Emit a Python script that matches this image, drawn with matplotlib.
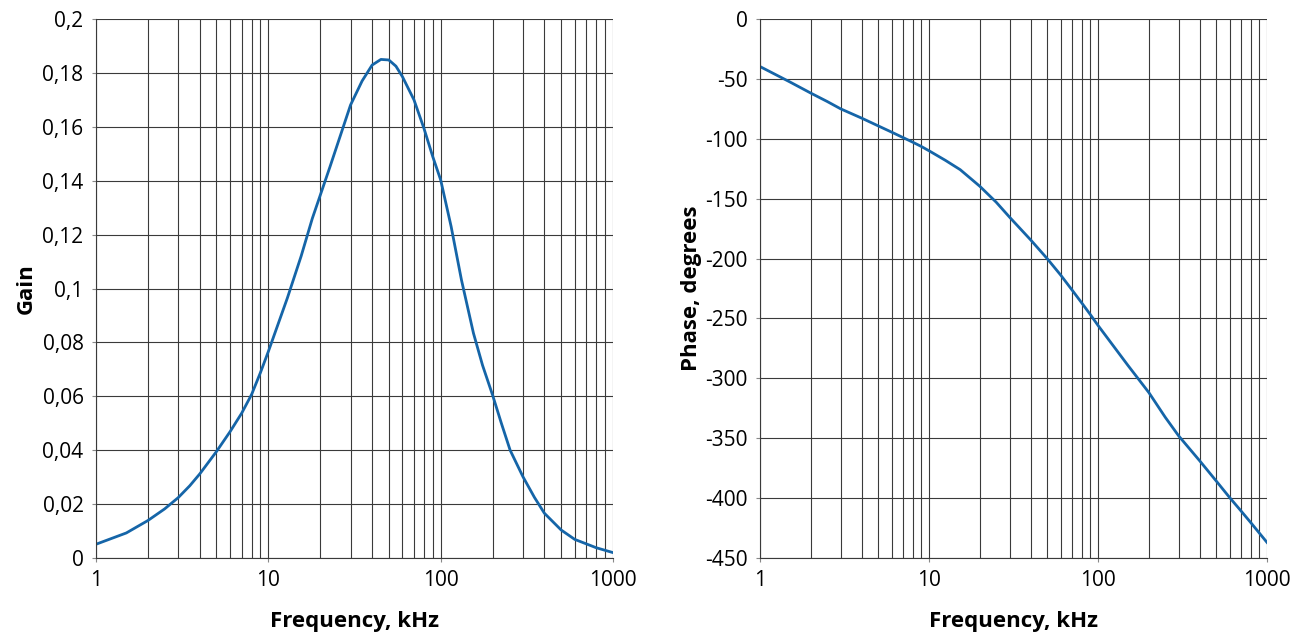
import numpy as np
import matplotlib.pyplot as plt
from matplotlib.ticker import FuncFormatter, FixedLocator, LogLocator

# frequency points (kHz) and gain
freq_gain = [1, 1.5, 2, 2.5, 3, 3.5, 4, 5, 6, 7, 8, 9, 10, 12.9, 15.5, 18, 22.8, 30, 35,
             40, 45, 50, 55, 60, 70, 80, 90, 100, 115, 132, 155, 175, 200, 225, 253,
             300, 350, 400, 500, 600, 800, 1000]
gain = [0.0051, 0.0093, 0.0139, 0.0182, 0.0224, 0.0268, 0.0312, 0.0395, 0.0469, 0.0537,
        0.0607, 0.0688, 0.0766, 0.0965, 0.1120, 0.1260, 0.1452, 0.1681, 0.1770,
        0.1829, 0.1850, 0.1848, 0.1825, 0.1786, 0.1700, 0.1594, 0.1489, 0.1403,
        0.1230, 0.1032, 0.0834, 0.0715, 0.0605, 0.0500, 0.0400, 0.0302, 0.0225,
        0.0166, 0.0104, 0.0069, 0.0038, 0.0020]

# frequency points (kHz) and phase
freq_phase = [1, 1.5, 2, 2.5, 3, 4, 5, 6, 7, 8, 9, 10, 12.5, 15.3, 20, 25, 30, 40, 50,
              60, 70, 80, 90, 100, 150, 200, 250, 300, 400, 500, 600, 700, 800, 1000]
phase = [-39.7, -52.5, -61.9, -68.9, -75, -82.8, -89.2, -94.4, -98.9, -102.8, -106.4,
         -110, -118, -125.8, -139.7, -153, -165.5, -184.5, -200, -213.6, -226, -236.9,
         -246.7, -255.8, -289, -311.9, -332.5, -348, -368.9, -385.6, -399.4, -410.5,
         -420.3, -437]

gain_ticks = [0, 0.02, 0.04, 0.06, 0.08, 0.1, 0.12, 0.14, 0.16, 0.18, 0.2]
phase_ticks = [0, -50, -100, -150, -200, -250, -300, -350, -400, -450]

plt.rcParams['font.family'] = ['Open Sans', 'DejaVu Sans']
line_col = '#1565a8'
grid_col = '#3a3a3a'

fig = plt.figure(figsize=(13.11, 6.35), dpi=100)
ax1 = fig.add_axes([96 / 1311, 1 - 558 / 635, 517 / 1311, 539 / 635])
ax2 = fig.add_axes([760 / 1311, 1 - 558 / 635, 507 / 1311, 539 / 635])


def comma(v, pos):
    return ('%g' % v).replace('.', ',')


def setup(ax):
    ax.set_xscale('log')
    ax.set_xlim(1, 1000)
    ax.xaxis.set_major_locator(FixedLocator([1, 10, 100, 1000]))
    ax.xaxis.set_minor_locator(LogLocator(base=10, subs=range(2, 10)))
    ax.xaxis.set_major_formatter(FuncFormatter(lambda v, p: '%d' % v))
    ax.tick_params(which='minor', length=0)
    ax.tick_params(which='major', length=3, width=0.8, color='#888888', labelsize=15, pad=6)
    ax.grid(True, which='both', axis='x', color=grid_col, linewidth=0.8)
    ax.grid(True, which='major', axis='y', color=grid_col, linewidth=0.8)
    for s in ['top', 'right']:
        ax.spines[s].set_visible(False)
    for s in ['left', 'bottom']:
        ax.spines[s].set_color(grid_col)
        ax.spines[s].set_linewidth(0.8)
    ax.set_xlabel('Frequency, kHz', fontsize=16, fontweight='bold', labelpad=14)


setup(ax1)
ax1.plot(freq_gain, gain, color=line_col, linewidth=2)
ax1.set_ylim(0, 0.2)
ax1.set_yticks(gain_ticks)
ax1.yaxis.set_major_formatter(FuncFormatter(comma))
ax1.set_ylabel('Gain', fontsize=16, fontweight='bold', labelpad=4)

setup(ax2)
ax2.plot(freq_phase, phase, color=line_col, linewidth=2)
ax2.set_ylim(-450, 0)
ax2.set_yticks(phase_ticks)
ax2.yaxis.set_major_formatter(FuncFormatter(lambda v, p: '%d' % v))
ax2.set_ylabel('Phase, degrees', fontsize=16, fontweight='bold', labelpad=2)

fig.savefig('out.png', dpi=100)
